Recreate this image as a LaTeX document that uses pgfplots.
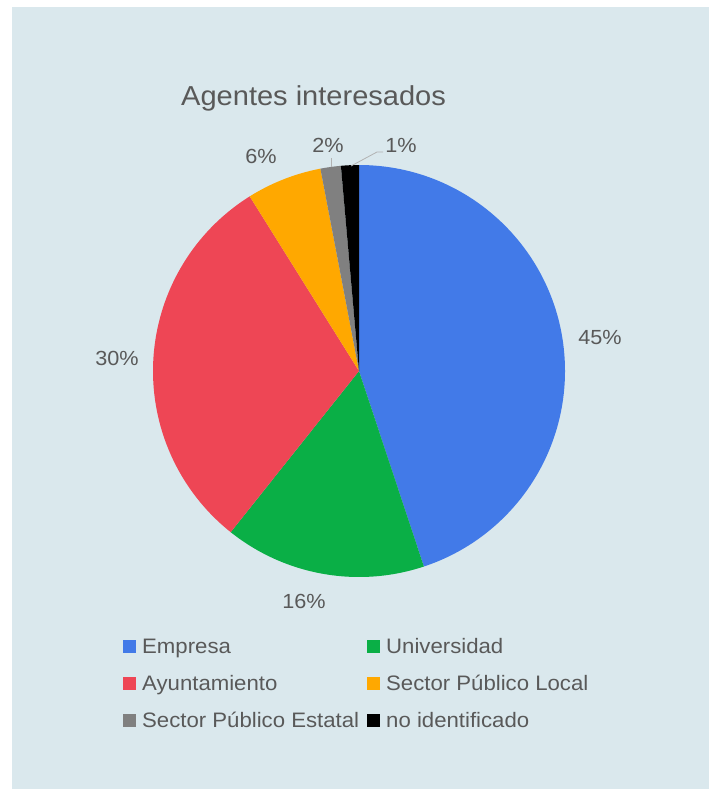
\documentclass[border=0pt]{standalone}
\usepackage{pgfplots}
\pgfplotsset{compat=1.18}
\usepackage{pgfplotstable}
\usepackage{fontspec}
\setmainfont{Liberation Sans}[FakeStretch=1.06]

\definecolor{bg}{RGB}{218,232,237}
\definecolor{txt}{RGB}{89,89,89}
\definecolor{cE}{RGB}{66,122,232}
\definecolor{cU}{RGB}{10,175,70}
\definecolor{cA}{RGB}{238,70,85}
\definecolor{cL}{RGB}{255,168,0}
\definecolor{cS}{RGB}{128,128,128}
\definecolor{cN}{RGB}{0,0,0}

% share of each agent, in percent, clockwise from the top
\pgfplotstableread{
key value col
Empresa 44.9 cE
Universidad 15.8 cU
Ayuntamiento 30.4 cA
SPLocal 5.9 cL
SPEstatal 1.6 cS
noid 1.4 cN
}\piedata

\begin{document}
\begin{tikzpicture}[x=1bp,y=1bp]
\fill[white] (0,0) rectangle (713,-789);
\fill[bg] (12,-7) rectangle (709,-789);

\begin{axis}[
    at={(359bp,-371bp)}, anchor=center,
    scale only axis, width=412bp, height=412bp,
    xmin=-1, xmax=1, ymin=-1, ymax=1,
    hide axis, clip=false,
]
\xdef\cum{0}
\pgfplotsinvokeforeach{0,...,5}{
  \pgfplotstablegetelem{#1}{value}\of\piedata \let\v\pgfplotsretval
  \pgfplotstablegetelem{#1}{col}\of\piedata \let\c\pgfplotsretval
  \pgfmathsetmacro\a{90-3.6*\cum}
  \pgfmathsetmacro\b{90-3.6*(\cum+\v)}
  \edef\tmp{\noexpand\fill[\c] (axis cs:0,0) -- (axis cs:{cos(\a)},{sin(\a)})
    arc[start angle=\a, end angle=\b, radius=206bp] -- cycle;}
  \tmp
  \pgfmathparse{\cum+\v}\xdef\cum{\pgfmathresult}
}
\end{axis}

% leader lines
\draw[gray!60, line width=0.8bp] (351,-166) -- (377,-152) -- (383,-152);
\draw[gray!60, line width=0.8bp] (331,-167) -- (331,-158);

\begin{scope}[every node/.style={text=txt, inner sep=0pt}]
\node[anchor=base west, font=\fontsize{27.5}{30}\selectfont] at (181,-105) {Agentes interesados};

\begin{scope}[every node/.append style={anchor=base, font=\fontsize{20.5}{24}\selectfont}]
\node at (600,-344) {45\%};
\node at (304,-608) {16\%};
\node at (117,-365) {30\%};
\node at (261,-163) {6\%};
\node at (328,-152) {2\%};
\node at (401,-152) {1\%};
\end{scope}

% legend
\begin{scope}[every node/.append style={anchor=base west, font=\fontsize{21}{24}\selectfont}]
\fill[cE] (123,-653) rectangle (136,-640);
\node at (142,-653) {Empresa};
\fill[cU] (367,-653) rectangle (380,-640);
\node at (386,-653) {Universidad};
\fill[cA] (123,-690) rectangle (136,-677);
\node at (142,-690) {Ayuntamiento};
\fill[cL] (367,-690) rectangle (380,-677);
\node at (386,-690) {Sector Público Local};
\fill[cS] (123,-727) rectangle (136,-714);
\node at (142,-727) {Sector Público Estatal};
\fill[cN] (367,-727) rectangle (380,-714);
\node at (386,-727) {no identificado};
\end{scope}
\end{scope}
\end{tikzpicture}
\end{document}
